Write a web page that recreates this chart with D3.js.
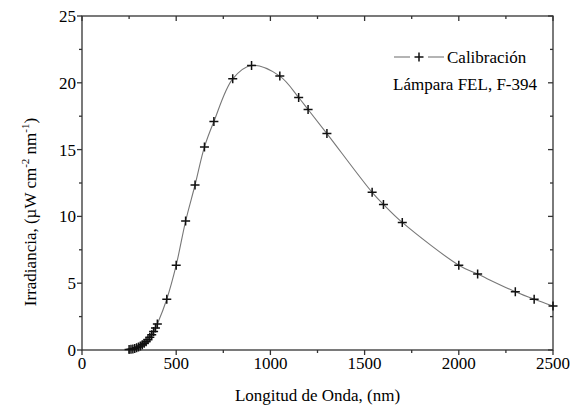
<!DOCTYPE html>
<html>
<head>
<meta charset="utf-8">
<script src="https://cdn.jsdelivr.net/npm/d3@7"></script>
</head>
<body style="margin:0">
<svg id="chart" width="574" height="412"></svg>
<script>
// Data: wavelength (nm) and irradiance (µW cm^-2 nm^-1)
const wavelengths = [250, 260, 270, 280, 290, 300, 310, 320, 330, 340, 350, 360, 370, 380, 390, 400,
                     450, 500, 550, 600, 650, 700, 800, 900, 1050, 1150, 1200, 1300, 1540, 1600, 1700,
                     2000, 2100, 2300, 2400, 2500];
const irradiance = [0.03, 0.05, 0.08, 0.12, 0.17, 0.23, 0.3, 0.39, 0.5, 0.62, 0.77, 0.95, 1.15, 1.38, 1.65, 1.95,
                    3.8, 6.35, 9.65, 12.35, 15.2, 17.1, 20.3, 21.3, 20.5, 18.9, 18.0, 16.2, 11.8, 10.9, 9.55,
                    6.35, 5.68, 4.36, 3.8, 3.3];
const xTicks = [0, 500, 1000, 1500, 2000, 2500];
const yTicks = [0, 5, 10, 15, 20, 25];
const xLabel = "Longitud de Onda, (nm)";
const legendSeries = "Calibración";
const legendNote = "Lámpara FEL, F-394";

const data = wavelengths.map((w, i) => ({ w, v: irradiance[i] }));

const svg = d3.select("#chart");
const m = { left: 82, right: 553, top: 16, bottom: 350 };

const x = d3.scaleLinear().domain([0, 2500]).range([m.left, m.right]);
const y = d3.scaleLinear().domain([0, 25]).range([m.bottom, m.top]);

const minorX = d3.range(0, 2501, 250);
const minorY = d3.range(0, 25.01, 2.5);

// frame
const frame = svg.append("g").attr("stroke", "#333").attr("stroke-width", 1.3).attr("fill", "none");
frame.append("rect").attr("x", m.left).attr("y", m.top)
  .attr("width", m.right - m.left).attr("height", m.bottom - m.top);

minorX.forEach(t => {
  const major = t % 500 === 0;
  frame.append("line").attr("x1", x(t)).attr("x2", x(t))
    .attr("y1", m.bottom).attr("y2", m.bottom + (major ? 5 : 3));
  frame.append("line").attr("x1", x(t)).attr("x2", x(t))
    .attr("y1", m.top).attr("y2", m.top + (major ? 5 : 3));
});
minorY.forEach(t => {
  const major = t % 5 === 0;
  frame.append("line").attr("y1", y(t)).attr("y2", y(t))
    .attr("x1", m.left).attr("x2", m.left - (major ? 5 : 3));
  frame.append("line").attr("y1", y(t)).attr("y2", y(t))
    .attr("x1", m.right).attr("x2", m.right - (major ? 5 : 3));
});

// tick labels
svg.append("g").selectAll("text").data(xTicks).join("text")
  .attr("font-family", "Liberation Serif").attr("font-size", 17)
  .attr("x", d => x(d)).attr("y", m.bottom + 19)
  .attr("text-anchor", "middle").text(d => d);
svg.append("g").selectAll("text").data(yTicks).join("text")
  .attr("font-family", "Liberation Serif").attr("font-size", 17)
  .attr("x", m.left - 6).attr("y", d => y(d) + 6)
  .attr("text-anchor", "end").text(d => d);

// axis titles
svg.append("text").attr("font-family", "Liberation Serif").attr("font-size", 17)
  .attr("x", (m.left + m.right) / 2).attr("y", 401)
  .attr("text-anchor", "middle").text(xLabel);

const yl = svg.append("text").attr("font-family", "Liberation Serif").attr("font-size", 17)
  .attr("transform", "translate(36,212) rotate(-90)")
  .attr("text-anchor", "middle");
yl.append("tspan").text("Irradiancia, (\u00B5W cm");
yl.append("tspan").attr("dy", -7).attr("font-size", 11).text("-2");
yl.append("tspan").attr("dy", 7).text(" nm");
yl.append("tspan").attr("dy", -7).attr("font-size", 11).text("-1");
yl.append("tspan").attr("dy", 7).text(")");

// curve
const line = d3.line().x(d => x(d.w)).y(d => y(d.v)).curve(d3.curveCatmullRom.alpha(0.5));
svg.append("path").datum(data).attr("d", line)
  .attr("fill", "none").attr("stroke", "#777").attr("stroke-width", 1.1);

// markers
const plus = s => `M${-s},0H${s}M0,${-s}V${s}`;
svg.append("g").selectAll("path").data(data).join("path")
  .attr("transform", d => `translate(${x(d.w)},${y(d.v)})`)
  .attr("d", plus(4.5)).attr("stroke", "#111").attr("stroke-width", 1.5).attr("fill", "none");

// legend
const lg = svg.append("g");
lg.append("line").attr("x1", 394).attr("x2", 410).attr("y1", 57).attr("y2", 57)
  .attr("stroke", "#777").attr("stroke-width", 1.1);
lg.append("line").attr("x1", 428).attr("x2", 444).attr("y1", 57).attr("y2", 57)
  .attr("stroke", "#777").attr("stroke-width", 1.1);
lg.append("path").attr("transform", "translate(419,57)").attr("d", plus(4.5))
  .attr("stroke", "#111").attr("stroke-width", 1.5).attr("fill", "none");
lg.append("text").attr("font-family", "Liberation Serif").attr("font-size", 17)
  .attr("x", 447).attr("y", 63).text(legendSeries);
lg.append("text").attr("font-family", "Liberation Serif").attr("font-size", 17)
  .attr("x", 537).attr("y", 90).attr("text-anchor", "end").text(legendNote);
</script>
</body>
</html>
